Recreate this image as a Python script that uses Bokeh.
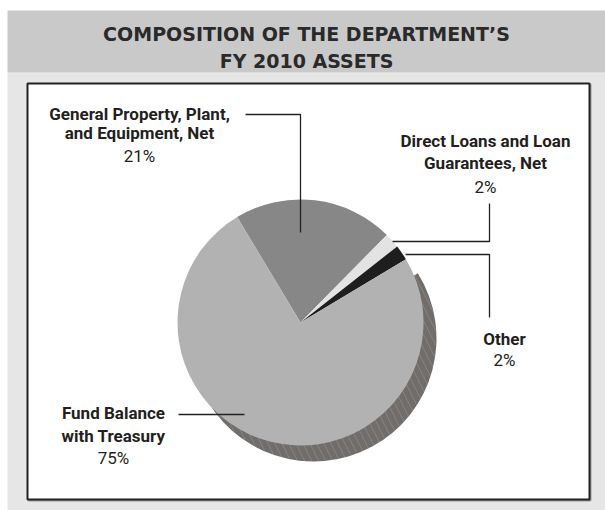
import numpy as np
from bokeh.plotting import figure
from bokeh.models import Range1d, ColumnDataSource
from bokeh.core.properties import value
from bokeh.embed import file_html
from bokeh.resources import INLINE

# ---- data ----
categories = ["General Property, Plant, and Equipment, Net",
              "Direct Loans and Loan Guarantees, Net",
              "Other",
              "Fund Balance with Treasury"]
percents = [21, 2, 2, 75]
colors = ["#878787", "#e3e3e3", "#1e1e1e", "#b2b2b2"]
title_lines = ["COMPOSITION OF THE DEPARTMENT\u2019S", "FY 2010 ASSETS"]

W, H = 605, 510
p = figure(width=W, height=H, output_backend="svg", toolbar_location=None,
           x_range=Range1d(0, W), y_range=Range1d(0, H),
           x_axis_location=None, y_axis_location=None, min_border=0)
p.outline_line_color = None
p.grid.visible = False
p.background_fill_color = "white"
p.border_fill_color = "white"

# background panels
p.quad(left=7, right=W, bottom=0, top=438, fill_color="#e6e6e6", line_color=None)
p.quad(left=7, right=W, bottom=438, top=500, fill_color="#c9c9c9", line_color=None)
# inner box with subtle shadow
p.quad(left=28, right=590, bottom=10, top=426, fill_color=None, line_color="#9a9a9a", line_width=2)
p.quad(left=27, right=589, bottom=11, top=427, fill_color="white", line_color="#222222", line_width=2)

p.text(x=[306, 306], y=[477, 450], text=title_lines, text_font=value("DejaVu Sans"),
       text_font_style="bold", text_font_size="19px", text_color="#2a2a2a",
       text_align="center", text_baseline="middle")

# pie
cx, cy, r = 300, 188, 123
start = np.deg2rad(121)
frac = np.array(percents) / sum(percents)
ends = start - np.cumsum(frac) * 2 * np.pi
starts = np.concatenate([[start], ends[:-1]])

# 3d side
p.wedge(x=cx + 13, y=cy - 16, radius=r, start_angle=np.deg2rad(-155), end_angle=np.deg2rad(32),
        fill_color="#716d6b", line_color=None, hatch_pattern="\\", hatch_color="#9a9694",
        hatch_scale=14, hatch_weight=0.5)

src = ColumnDataSource(dict(start=ends, end=starts, color=colors))
p.wedge(x=cx, y=cy, radius=r, start_angle="start", end_angle="end", direction="anticlock",
        fill_color="color", line_color=None, source=src)

# leader lines
lc = "#222222"
p.line([245, 300, 300], [396, 396, 278], line_color=lc, line_width=1.3)
p.line([392, 489, 489], [269, 269, 307], line_color=lc, line_width=1.3)
p.line([405, 489, 489], [256, 256, 193], line_color=lc, line_width=1.3)
p.line([178, 244], [96, 96], line_color=lc, line_width=1.3)

lab_font = value("Roboto")
bold_txt = dict(text_font=lab_font, text_font_style="bold", text_font_size="17px",
                text_color="#231f20", text_align="center", text_baseline="middle")
norm_txt = dict(text_font=lab_font, text_font_style="normal", text_font_size="17px",
                text_color="#231f20", text_align="center", text_baseline="middle")

pct = [f"{v}%" for v in percents]
# PP&E
p.text(x=[139, 139], y=[397, 378], text=["General Property, Plant,", "and Equipment, Net"], **bold_txt)
p.text(x=[139], y=[355], text=[pct[0]], **norm_txt)
# Direct loans
p.text(x=[485, 485], y=[370, 348], text=["Direct Loans and Loan", "Guarantees, Net"], **bold_txt)
p.text(x=[485], y=[324], text=[pct[1]], **norm_txt)
# Other
p.text(x=[504], y=[172], text=[categories[2]], **bold_txt)
p.text(x=[504], y=[151], text=[pct[2]], **norm_txt)
# Fund balance
p.text(x=[113, 113], y=[98, 75], text=["Fund Balance", "with Treasury"], **bold_txt)
p.text(x=[113], y=[53], text=[pct[3]], **norm_txt)

open("out.html", "w").write(file_html(p, INLINE))
